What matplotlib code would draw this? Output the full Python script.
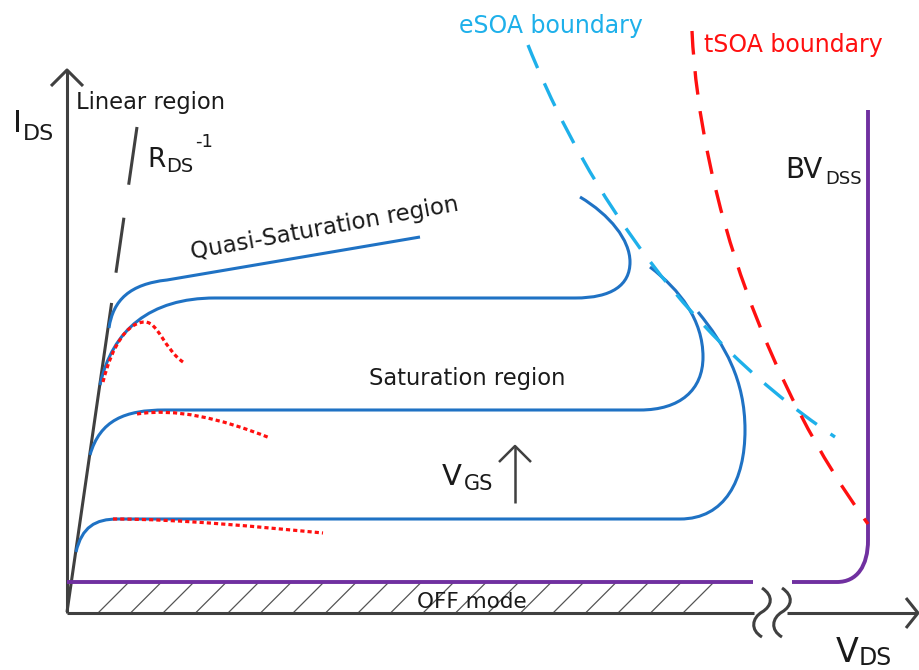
import numpy as np
import matplotlib.pyplot as plt
from matplotlib.path import Path
from matplotlib.patches import PathPatch

plt.rcParams['font.family'] = ['DejaVu Sans']
plt.rcParams['lines.scale_dashes'] = False

# sketch coordinates are in pixels of the 919x670 drawing, y pointing down
# ops: M = move, L = line, C = cubic bezier point
quasi_pts = [(109, 328), (113, 300), (130, 284), (167, 280), (420, 237)]
quasi_ops = 'MCCCL'
sat_hi_pts = [(100, 385), (112, 330), (150, 298), (215, 298), (575, 298),
              (612, 298), (630, 285), (630, 262), (630, 240), (610, 215), (580, 197)]
sat_mid_pts = [(90, 455), (100, 420), (125, 410), (165, 410), (640, 410),
               (680, 410), (703, 390), (703, 357), (703, 320), (680, 290), (650, 267)]
sat_lo_pts = [(76, 552), (82, 527), (95, 519), (118, 519), (680, 519),
              (725, 519), (745, 480), (745, 430), (745, 380), (725, 345), (698, 312)]
sat_ops = 'MCCCLCCCCCC'

red_hi_pts = [(103, 382), (112, 345), (128, 322), (145, 322), (158, 322), (165, 350), (183, 362)]
red_hi_ops = 'MCCCCCC'
red_mid_pts = [(137, 414), (175, 408), (220, 418), (270, 438)]
red_lo_pts = [(113, 519), (180, 519), (260, 527), (323, 533)]
red_ops = 'MCCC'

esoa_pts = [(528, 45), (570, 150), (660, 320), (835, 437)]
tsoa_pts = [(692, 31), (700, 200), (770, 390), (868, 524)]
soa_ops = 'MCCC'

off_left_pts = [(67, 582), (753, 582)]
off_right_pts = [(792, 582), (837, 582), (857, 582), (868, 566), (868, 540), (868, 110)]
off_right_ops = 'MLCCCL'

rds_line = [(137, 127), (67, 612)]
y_axis = [(67, 613), (67, 70)]
y_head = [(51, 86), (67, 70), (83, 86)]
x_axis_left = [(67, 613), (754, 613)]
x_axis_right = [(787, 613), (917, 613)]
x_head = [(906, 598), (918, 613), (906, 628)]
break_wave = [(762, 588), (774, 596), (772, 606), (762, 612), (752, 618), (750, 630), (762, 637)]
break_ops = 'MCCCCCC'
vgs_arrow = [(515, 503), (515, 447)]
vgs_head = [(499, 462), (515, 446), (531, 462)]

hatch_x = np.arange(98, 700, 32.5)

region_labels = ['Linear region', 'Quasi-Saturation region', 'Saturation region', 'OFF mode']
boundary_labels = ['eSOA boundary', 'tSOA boundary']

BLUE = '#1f72c4'
LBLUE = '#1eb0ea'
RED = '#ff1010'
PURPLE = '#7030a0'
GRAY = '#404040'

code = {'M': Path.MOVETO, 'L': Path.LINETO, 'C': Path.CURVE4}


def curve(ax, pts, ops, **kw):
    p = Path(pts, [code[o] for o in ops])
    ax.add_patch(PathPatch(p, fill=False, capstyle='butt', **kw))


def poly(ax, pts, **kw):
    xs, ys = zip(*pts)
    ax.plot(xs, ys, solid_capstyle='butt', **kw)


fig = plt.figure(figsize=(9.19, 6.70), dpi=100)
ax = fig.add_axes([0, 0, 1, 1])
ax.set_xlim(0, 919)
ax.set_ylim(670, 0)
ax.axis('off')

# hatched OFF-mode band
for x0 in hatch_x:
    ax.plot([x0, x0 + 30], [613, 583], color='#555555', lw=0.9, zorder=1)

# axes
poly(ax, y_axis, color=GRAY, lw=2.2, zorder=2)
poly(ax, y_head, color=GRAY, lw=2.2, zorder=2)
poly(ax, x_axis_left, color=GRAY, lw=2.2, zorder=2)
poly(ax, x_axis_right, color=GRAY, lw=2.2, zorder=2)
poly(ax, x_head, color=GRAY, lw=2.2, zorder=2)
curve(ax, break_wave, break_ops, edgecolor=GRAY, lw=2.2, zorder=2)
curve(ax, [(x + 20, y) for x, y in break_wave], break_ops, edgecolor=GRAY, lw=2.2, zorder=2)

# R_DS^-1 slope line
poly(ax, rds_line, color=GRAY, lw=2.2, zorder=2,
     dashes=[42, 24, 40, 22, 400, 10])

# OFF line / breakdown
poly(ax, off_left_pts, color=PURPLE, lw=2.8, zorder=3)
curve(ax, off_right_pts, off_right_ops, edgecolor=PURPLE, lw=2.8, zorder=3)

# output curves
curve(ax, quasi_pts, quasi_ops, edgecolor=BLUE, lw=2.2, zorder=4)
for pts in (sat_hi_pts, sat_mid_pts, sat_lo_pts):
    curve(ax, pts, sat_ops, edgecolor=BLUE, lw=2.2, zorder=4)

# self-heating dotted curves
curve(ax, red_hi_pts, red_hi_ops, edgecolor=RED, lw=2.3, zorder=5, linestyle=(0, (3, 2.2)))
curve(ax, red_mid_pts, red_ops, edgecolor=RED, lw=2.3, zorder=5, linestyle=(0, (3, 2.2)))
curve(ax, red_lo_pts, red_ops, edgecolor=RED, lw=2.3, zorder=5, linestyle=(0, (3, 2.2)))

# SOA boundaries
curve(ax, esoa_pts, soa_ops, edgecolor=LBLUE, lw=2.4, zorder=5, linestyle=(0, (18, 12)))
curve(ax, tsoa_pts, soa_ops, edgecolor=RED, lw=2.4, zorder=6, linestyle=(0, (17, 12)))

# V_GS arrow
poly(ax, vgs_arrow, color=GRAY, lw=1.8, zorder=4)
poly(ax, vgs_head, color=GRAY, lw=1.8, zorder=4)

# text
tc = '#1a1a1a'
ax.text(13, 132, 'I', fontsize=22, color=tc, va='baseline')
ax.text(23, 140, 'DS', fontsize=16, color=tc, va='baseline')
ax.text(76, 109, region_labels[0], fontsize=16.3, color=tc, va='baseline')
ax.text(147, 167, 'R', fontsize=19, color=tc, va='baseline')
ax.text(166, 172, 'DS', fontsize=14, color=tc, va='baseline')
ax.text(195, 147, '-1', fontsize=13, color=tc, va='baseline')
ax.text(326, 235, region_labels[1], fontsize=16.5, color=tc, ha='center', va='baseline',
        rotation=10.3, rotation_mode='anchor')
ax.text(467, 385, region_labels[2], fontsize=16.3, color=tc, ha='center', va='baseline')
ax.text(472, 608, region_labels[3], fontsize=15.5, color=tc, ha='center', va='baseline', zorder=3)
ax.text(442, 485, 'V', fontsize=21, color=tc, va='baseline')
ax.text(464, 490, 'GS', fontsize=15, color=tc, va='baseline')
ax.text(785, 178, 'BV', fontsize=20, color=tc, va='baseline')
ax.text(825, 184, 'DSS', fontsize=13, color=tc, va='baseline')
ax.text(836, 662, 'V', fontsize=24, color=tc, va='baseline')
ax.text(859, 665, 'DS', fontsize=17, color=tc, va='baseline')
ax.text(459, 33, boundary_labels[0], fontsize=17, color=LBLUE, va='baseline')
ax.text(704, 52, boundary_labels[1], fontsize=17, color=RED, va='baseline')

fig.savefig('out.png', dpi=100)
